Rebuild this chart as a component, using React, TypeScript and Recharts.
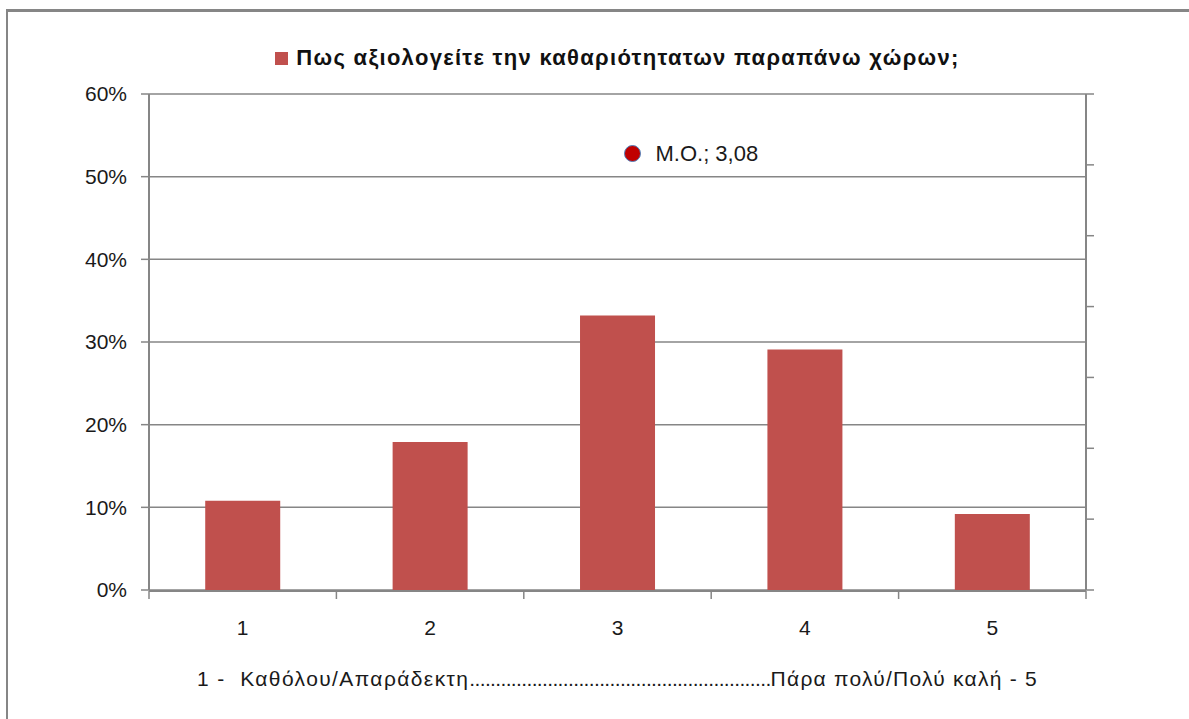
import React from "react";
import {
  ComposedChart,
  Bar,
  Scatter,
  XAxis,
  YAxis,
  CartesianGrid,
} from "recharts";

const categories = ["1", "2", "3", "4", "5"];
const shares = [10.8, 17.9, 33.2, 29.1, 9.2];
const leftTicks = [0, 10, 20, 30, 40, 50, 60];
const rightTicks = [0, 0.5, 1, 1.5, 2, 2.5, 3, 3.5];
const edgeTicks = [0.5, 1.5, 2.5, 3.5, 4.5, 5.5];
const meanScore = 3.08;
const meanLabel = "M.O.; 3,08";
const seriesName = "Πως αξιολογείτε την καθαριότητατων παραπάνω χώρων;";
const scaleLow = "1 -\u00a0 Καθόλου/Απαράδεκτη";
const scaleDots = ".".repeat(58);
const scaleHigh = "Πάρα πολύ/Πολύ καλή - 5";

const data = categories.map((name, i) => ({ name, share: shares[i] }));
const meanPoint = [{ x: meanScore, y: meanScore }];

const GRAY = "#868686";
const BAR = "#C0504D";
const FONT = "'Liberation Sans', Arial, sans-serif";

const MeanDot = (p: any) => (
  <g>
    <circle cx={p.cx} cy={p.cy} r={8} fill="#C00000" stroke="#4F81BD" strokeWidth={1} />
    <text x={p.cx + 23} y={p.cy} dy="0.36em" fontSize={22} fill="#1a1a1a" fontFamily={FONT}>
      {meanLabel}
    </text>
  </g>
);

const ScaleCaption = (p: any) => {
  const { x, y, width, height } = p.viewBox;
  return (
    <text
      x={x + width / 2}
      y={y + height + 87}
      dy="0.36em"
      textAnchor="middle"
      fontSize={21}
      fill="#1a1a1a"
      fontFamily={FONT}
    >
      <tspan letterSpacing={1.4}>{scaleLow}</tspan>
      <tspan letterSpacing={-0.64}>{scaleDots}</tspan>
      <tspan letterSpacing={1.25}>{scaleHigh}</tspan>
    </text>
  );
};

const NoLabel = () => <g />;

export default function App() {
  return (
    <div style={{ position: "absolute", left: 0, top: 0, width: 1189, height: 719, background: "#fff" }}>
      <div
        style={{
          position: "absolute",
          left: 6,
          top: 9,
          width: 1183,
          height: 710,
          borderTop: `3px solid ${GRAY}`,
          borderLeft: `2px solid ${GRAY}`,
          boxSizing: "border-box",
        }}
      />
      <div
        style={{
          position: "absolute",
          left: 149,
          top: 45,
          width: 937,
          textAlign: "center",
          fontFamily: FONT,
          fontWeight: "bold",
          fontSize: 22,
          letterSpacing: 1.3,
          color: "#111",
          whiteSpace: "nowrap",
        }}
      >
        <span style={{ display: "inline-block", width: 13, height: 13, background: BAR, marginRight: 8 }} />
        {seriesName}
      </div>
      <ComposedChart
        width={1189}
        height={719}
        data={data}
        margin={{ top: 94, left: 89, right: 83, bottom: 127 }}
        barCategoryGap="30%"
        style={{ position: "absolute", left: 0, top: 0 }}
      >
        <CartesianGrid xAxisId="cat" yAxisId="left" vertical={false} stroke={GRAY} strokeWidth={1.5} />
        <XAxis
          xAxisId="edges"
          type="number"
          dataKey="x"
          domain={[0.5, 5.5]}
          ticks={edgeTicks}
          tick={NoLabel}
          tickSize={8}
          height={1}
          axisLine={{ stroke: GRAY, strokeWidth: 2 }}
          tickLine={{ stroke: GRAY, strokeWidth: 1.5 }}
          allowDataOverflow
        />
        <XAxis
          xAxisId="cat"
          dataKey="name"
          height={1}
          axisLine={false}
          tickLine={false}
          tickSize={0}
          tickMargin={30}
          tick={{ fontSize: 21, fill: "#1a1a1a", fontFamily: FONT }}
          label={{ position: "bottom", content: ScaleCaption }}
        />
        <YAxis
          yAxisId="left"
          width={60}
          domain={[0, 60]}
          ticks={leftTicks}
          tickFormatter={(v: number) => `${v}%`}
          tickSize={8}
          tickMargin={14}
          axisLine={{ stroke: GRAY, strokeWidth: 2 }}
          tickLine={{ stroke: GRAY, strokeWidth: 1.5 }}
          tick={{ fontSize: 21, fill: "#1a1a1a", fontFamily: FONT }}
          allowDataOverflow
        />
        <YAxis
          yAxisId="right"
          orientation="right"
          dataKey="y"
          width={20}
          domain={[0, 3.5]}
          ticks={rightTicks}
          tick={NoLabel}
          tickSize={8}
          axisLine={{ stroke: GRAY, strokeWidth: 2 }}
          tickLine={{ stroke: GRAY, strokeWidth: 1.5 }}
          allowDataOverflow
        />
        <Bar xAxisId="cat" yAxisId="left" dataKey="share" fill={BAR} isAnimationActive={false} />
        <Scatter
          xAxisId="edges"
          yAxisId="right"
          data={meanPoint}
          shape={MeanDot}
          legendType="none"
          isAnimationActive={false}
        />
      </ComposedChart>
    </div>
  );
}
